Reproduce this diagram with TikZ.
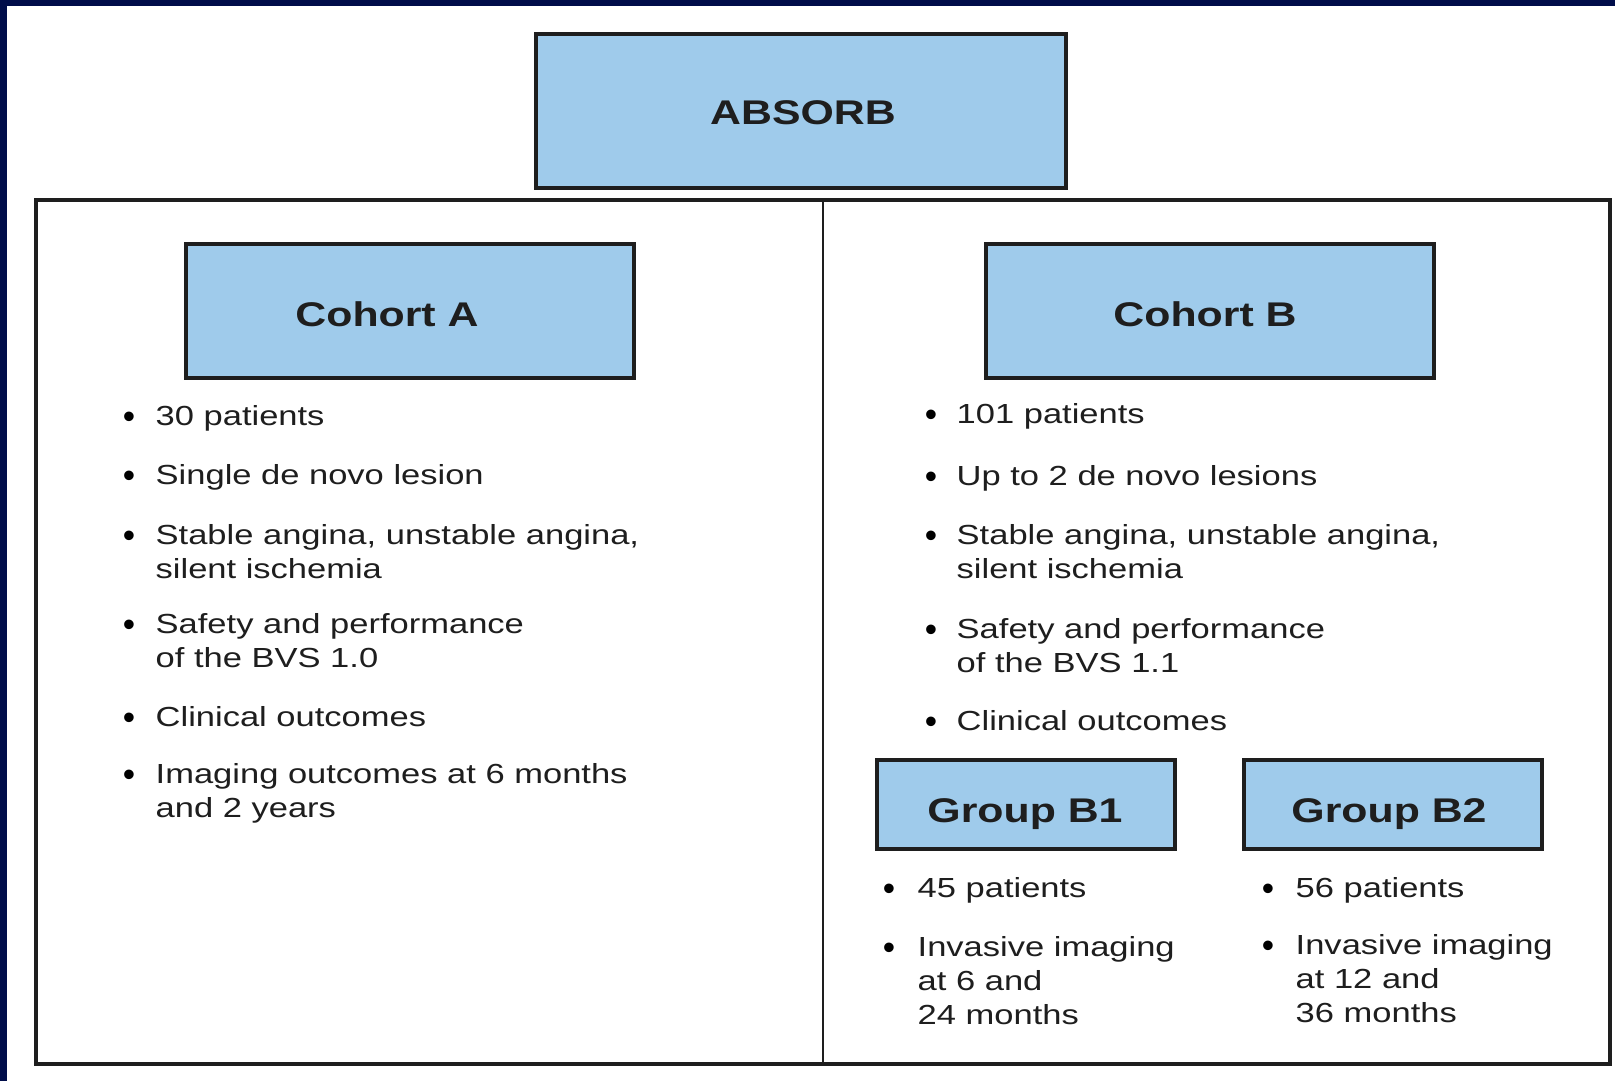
\documentclass[tikz,border=0pt]{standalone}
\usepackage{fontspec}
\setmainfont{Liberation Sans}[FakeStretch=1.25]
\newfontfamily\bulletfont{Liberation Sans}
\definecolor{navy}{RGB}{0,13,74}
\definecolor{boxblue}{RGB}{159,203,235}
\definecolor{ink}{RGB}{30,30,30}
\newcommand\bitem[5]{%
  \node[bul] (#1b) at (#2,#4+3) {\textbullet};
  \node[txt] (#1) at (#3,#4) {\begin{tabular}[t]{@{}l@{}}#5\end{tabular}};}
\begin{document}
\begin{tikzpicture}[x=0.01cm,y=-0.01cm,
  hbox/.style={draw=ink, line width=1.1pt, fill=boxblue, inner sep=0},
  lbl/.style={inner sep=0, anchor=base, text=ink, font=\fontsize{9.74}{12}\selectfont\bfseries},
  txt/.style={inner sep=0, anchor=base west, text=ink, font=\fontsize{7.85}{9.8}\selectfont},
  bul/.style={inner sep=0, anchor=base, text=black, font=\bulletfont\fontsize{10}{10}\selectfont},
  frame/.style={draw=ink, line width=0.9pt},
  divider/.style={draw=ink, line width=0.6pt}]
\useasboundingbox (0,0) rectangle (1615,1081);
\fill[white] (0,0) rectangle (1615,1081);
\fill[navy] (0,0) rectangle (1615,6);
\fill[navy] (0,0) rectangle (7,1081);

% outer frame and divider
\coordinate (otl) at (36,200);
\coordinate (obr) at (1610,1064);
\coordinate (dtop) at (823,200);
\coordinate (dbot) at (823,1064);
\draw[frame] (otl) rectangle (obr);
\draw[divider] (dtop) -- (dbot);

% header boxes
\node[hbox, minimum width=5.30cm, minimum height=1.54cm] (absorb) at (801,111) {};
\node[hbox, minimum width=4.48cm, minimum height=1.34cm] (cohA) at (410,311) {};
\node[hbox, minimum width=4.48cm, minimum height=1.34cm] (cohB) at (1210,311) {};
\node[hbox, minimum width=2.98cm, minimum height=0.89cm] (grB1) at (1026,804.5) {};
\node[hbox, minimum width=2.98cm, minimum height=0.89cm] (grB2) at (1393,804.5) {};
\node[lbl] (absorbt) at (803,124) {ABSORB};
\node[lbl] (cohAt) at (387,326) {Cohort A};
\node[lbl] (cohBt) at (1205,326) {Cohort B};
\node[lbl] (grB1t) at (1025,822) {Group B1};
\node[lbl] (grB2t) at (1389,822) {Group B2};

% Cohort A items
\bitem{a1}{129}{155}{425}{30 patients}
\bitem{a2}{129}{155}{484}{Single de novo lesion}
\bitem{a3}{129}{155}{544}{Stable angina, unstable angina,\\silent ischemia}
\bitem{a4}{129}{155}{633}{Safety and performance\\of the BVS 1.0}
\bitem{a5}{129}{155}{726}{Clinical outcomes}
\bitem{a6}{129}{155}{783}{Imaging outcomes at 6 months\\and 2 years}

% Cohort B items
\bitem{b1}{931}{956}{423}{101 patients}
\bitem{b2}{931}{956}{485}{Up to 2 de novo lesions}
\bitem{b3}{931}{956}{544}{Stable angina, unstable angina,\\silent ischemia}
\bitem{b4}{931}{956}{638}{Safety and performance\\of the BVS 1.1}
\bitem{b5}{931}{956}{730}{Clinical outcomes}

% Group B1 items
\bitem{c1}{889}{917}{897}{45 patients}
\bitem{c2}{889}{917}{956}{Invasive imaging\\at 6 and\\24 months}

% Group B2 items
\bitem{d1}{1268}{1295}{897}{56 patients}
\bitem{d2}{1268}{1295}{954}{Invasive imaging\\at 12 and\\36 months}
\end{tikzpicture}
\end{document}
